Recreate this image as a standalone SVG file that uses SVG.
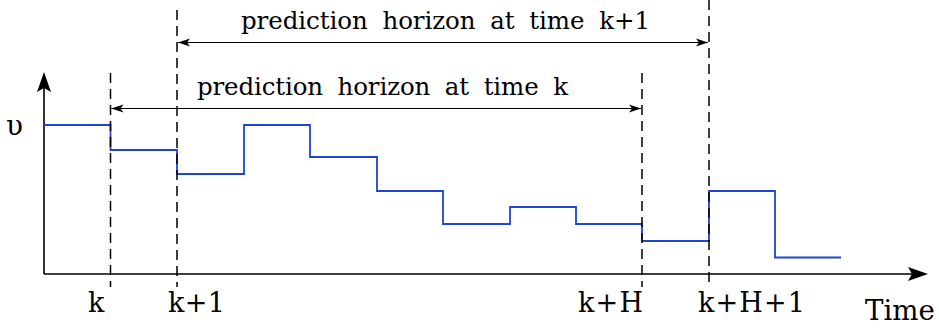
<svg xmlns="http://www.w3.org/2000/svg" width="939" height="329" viewBox="0 0 939 329">
<style>
.dash{stroke:#000;stroke-width:1.5;stroke-dasharray:10,6;fill:none}
.ax{stroke:#000;stroke-width:1.6;fill:none}
.hz{stroke:#000;stroke-width:1.2;fill:none;marker-start:url(#sa);marker-end:url(#ea)}
.sig{stroke:#2143d8;stroke-width:1.8;fill:none}
</style>
<defs>
<marker id="ea" markerWidth="14" markerHeight="10" refX="12" refY="5" orient="auto" markerUnits="userSpaceOnUse">
<path d="M0,1 L12,5 L0,9 L3,5 Z" fill="#000"/>
</marker>
<marker id="sa" markerWidth="14" markerHeight="10" refX="0" refY="5" orient="auto" markerUnits="userSpaceOnUse">
<path d="M12,1 L0,5 L12,9 L9,5 Z" fill="#000"/>
</marker>
</defs>
<g id="axes">
<line class="ax" x1="44" y1="274" x2="44" y2="86"/>
<path d="M44,72 L51,92 L44,88 L37,92 Z" fill="#000"/>
<line class="ax" x1="44" y1="274" x2="915" y2="274"/>
<path d="M928,274 L908,281 L912,274 L908,267 Z" fill="#000"/>
</g>
<g id="signal">
<path class="sig" d="M44,125 H110.5 V150 H177 V174 H244 V125 H310 V157 H377 V191 H443 V224 H510 V207 H576 V224 H642 V241 H709 V191 H775 V257.5 H841"/>
</g>
<g id="dashes">
<line class="dash" x1="110.5" y1="73" x2="110.5" y2="287"/>
<line class="dash" x1="177" y1="10" x2="177" y2="287"/>
<line class="dash" x1="642" y1="73" x2="642" y2="287"/>
<line class="dash" x1="709" y1="0" x2="709" y2="287"/>
</g>
<g id="connectors">
<line class="hz" x1="178" y1="42.5" x2="708" y2="42.5"/>
<line class="hz" x1="111.5" y1="108.5" x2="641" y2="108.5"/>
</g>
<g id="labels" font-family="DejaVu Serif, serif" font-size="27" fill="#000">
<text x="241" y="29" font-size="24.5" word-spacing="7" textLength="409" lengthAdjust="spacing">prediction horizon at time k+1</text>
<text x="197" y="95" font-size="24.5" word-spacing="7" textLength="371" lengthAdjust="spacing">prediction horizon at time k</text>
<text x="6" y="135" font-size="28">υ</text>
<text x="88" y="312">k</text>
<text x="168" y="312" textLength="57" lengthAdjust="spacing">k+1</text>
<text x="578" y="312" textLength="65" lengthAdjust="spacing">k+H</text>
<text x="698" y="312" textLength="107" lengthAdjust="spacing">k+H+1</text>
<text x="865" y="320" font-size="27" textLength="70" lengthAdjust="spacingAndGlyphs">Time</text>
</g>
</svg>
